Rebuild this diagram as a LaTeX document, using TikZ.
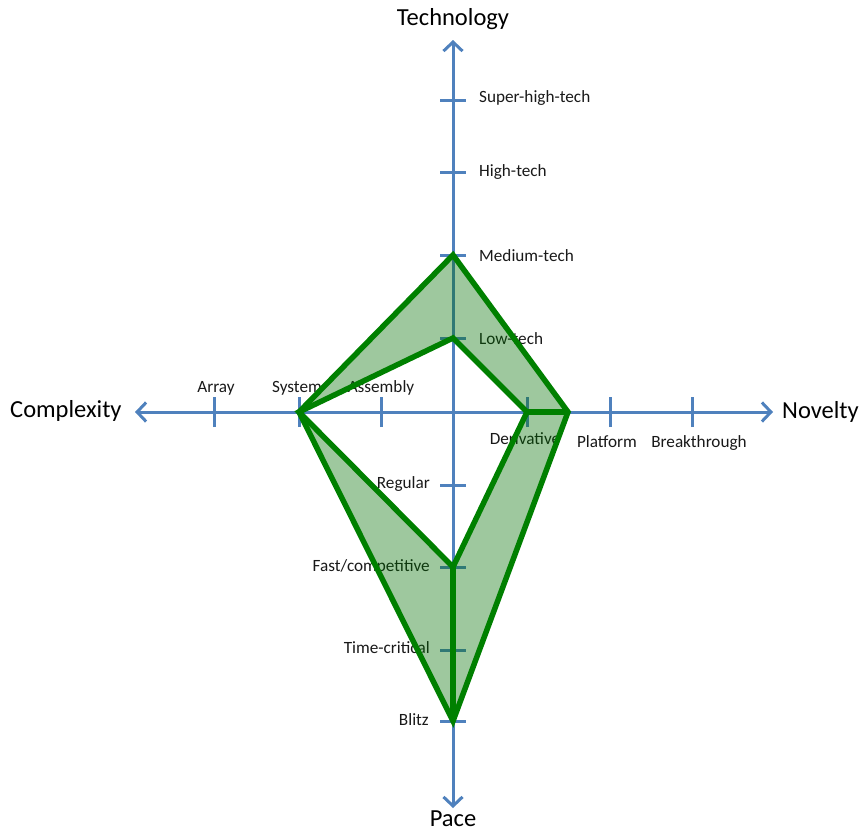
\documentclass[tikz,border=0pt]{standalone}
\usepackage{fontspec}
\setmainfont{Carlito}
\usetikzlibrary{arrows.meta}
\definecolor{axisblue}{RGB}{79,129,189}
\definecolor{profgreen}{RGB}{0,128,0}
\definecolor{fillgreen}{RGB}{0,110,0}
\tikzset{
  axis/.style={draw=axisblue, line width=3pt, {Straight Barb[length=9pt,width=19pt,line width=3pt]}-{Straight Barb[length=9pt,width=19pt,line width=3pt]}},
  tick/.style={draw=axisblue, line width=3pt},
  ticklabel/.style={font=\fontsize{17.2}{20}\selectfont, inner sep=0pt, text=black!90},
  axistitle/.style={font=\fontsize{24.5}{29}\selectfont, inner sep=0pt, text=black},
  profile/.style={draw=profgreen, line width=5.5pt, line join=miter},
  band/.style={fill=fillgreen, fill opacity=0.38, even odd rule}
}
\begin{document}
\begin{tikzpicture}[x=1pt, y=-1pt]
\useasboundingbox (0,0) rectangle (860,833);

% axis end points and centre
\coordinate (O) at (453,412);
\coordinate (tipN) at (453,40);
\coordinate (tipS) at (453,808);
\coordinate (tipW) at (135,412);
\coordinate (tipE) at (773,412);

% scale positions
\coordinate (low) at (453,338);
\coordinate (med) at (453,255);
\coordinate (high) at (453,172);
\coordinate (super) at (453,100);
\coordinate (regular) at (453,485);
\coordinate (fast) at (453,567);
\coordinate (critical) at (453,650);
\coordinate (blitz) at (453,721);
\coordinate (deriv) at (527,412);
\coordinate (platform) at (610,412);
\coordinate (breakthrough) at (692,412);
\coordinate (assembly) at (381,412);
\coordinate (system) at (299,412);
\coordinate (array) at (214,412);
\coordinate (outerE) at (568,412);

% axes
\draw[axis] (tipW) -- (tipE);
\draw[axis] (tipS) -- (tipN);

% ticks
\foreach \p in {low,med,high,super,regular,fast,critical,blitz}
  \draw[tick] ([xshift=-13pt]\p) -- ([xshift=13pt]\p);
\foreach \p in {deriv,platform,breakthrough,assembly,system,array}
  \draw[tick] ([yshift=-15pt]\p) -- ([yshift=15pt]\p);

% axis titles
\node[axistitle] (tTech) at (453,19) {Technology};
\node[axistitle] (tPace) at (453,819) {Pace};
\node[axistitle, anchor=west] (tComp) at (10,411) {Complexity};
\node[axistitle, anchor=west] (tNov) at (782,412) {Novelty};

% scale labels
\node[ticklabel, anchor=west] (lSuper) at (479,98) {Super-high-tech};
\node[ticklabel, anchor=west] (lHigh) at (479,172) {High-tech};
\node[ticklabel, anchor=west] (lMed) at (479,256) {Medium-tech};
\node[ticklabel, anchor=west] (lLow) at (479,339) {Low-tech};
\node[ticklabel, anchor=east] (lReg) at (430,484) {Regular};
\node[ticklabel, anchor=east] (lFast) at (430,567) {Fast/competitive};
\node[ticklabel, anchor=east] (lCrit) at (430,648) {Time-critical};
\node[ticklabel, anchor=east] (lBlitz) at (429,720) {Blitz};
\node[ticklabel, anchor=south] (lArray) at (216,395) {Array};
\node[ticklabel, anchor=south] (lSys) at (297,395) {System};
\node[ticklabel, anchor=south] (lAsm) at (381,395) {Assembly};
\node[ticklabel, anchor=north] (lDer) at (525,432) {Derivative};
\node[ticklabel, anchor=north] (lPlat) at (607,435) {Platform};
\node[ticklabel, anchor=north] (lBrk) at (699,435) {Breakthrough};

% shaded band between the two profiles
\path[band] (system) -- (med) -- (outerE) -- (blitz) -- cycle
            (system) -- (low) -- (deriv) -- (fast) -- cycle;

% profile outlines
\draw[profile] (system) -- (med) -- (outerE) -- (blitz) -- cycle;
\draw[profile] (system) -- (low) -- (deriv) -- (fast) -- cycle;
\draw[profile] (deriv) -- (outerE);
\draw[profile] (fast) -- (blitz);
\end{tikzpicture}
\end{document}
